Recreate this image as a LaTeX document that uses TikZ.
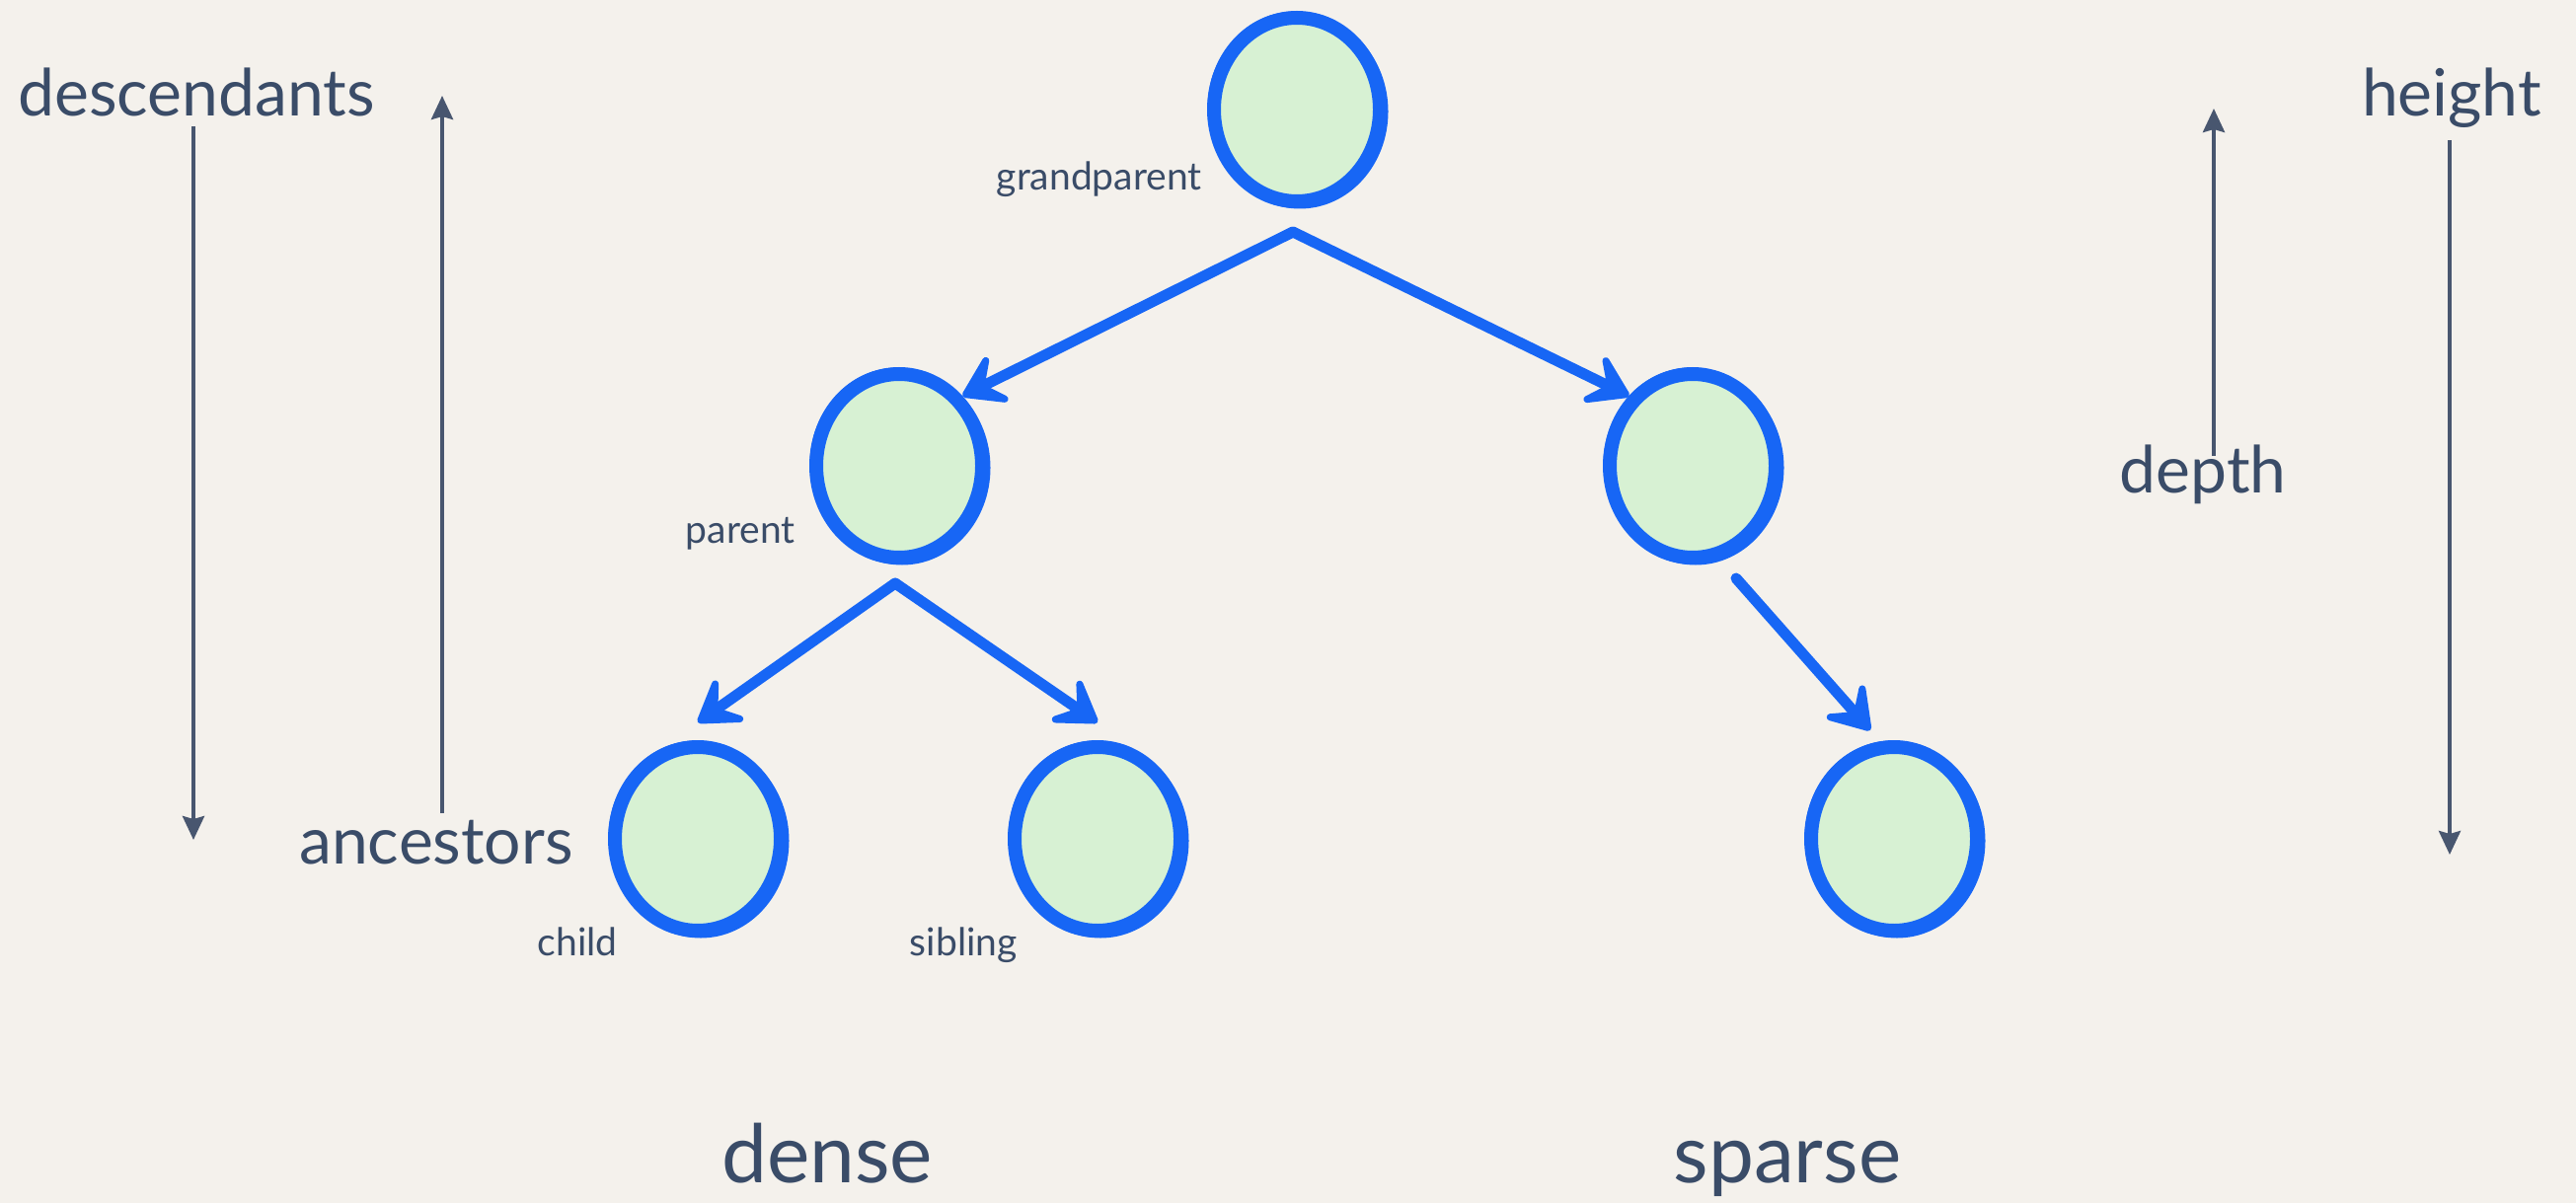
\documentclass[tikz,border=0pt]{standalone}
\usepackage{fontspec}
\setmainfont{Lato}
\usetikzlibrary{shapes.geometric,arrows.meta,calc}
\definecolor{bg}{HTML}{F4F1EC}
\definecolor{ink}{HTML}{3A4C68}
\definecolor{arrowink}{HTML}{48566F}
\definecolor{tblue}{HTML}{1766F5}
\definecolor{tgreen}{HTML}{D7F1D3}
\begin{document}
\begin{tikzpicture}[x=0.5pt,y=-0.5pt,
  tnode/.style={ellipse,draw=tblue,fill=tgreen,line width=7pt,minimum width=84pt,minimum height=93pt,inner sep=0pt},
  sketch/.style={draw=tblue,line width=2.5pt},
  tarrow/.style={draw=tblue,line width=5.5pt,line cap=round,-{Stealth[length=27pt,width=35pt,inset=13pt,round]}},
  side/.style={text=ink,font=\fontsize{33}{39}\selectfont,inner sep=0pt},
  small/.style={text=ink,font=\fontsize{19.5}{23}\selectfont,inner sep=0pt},
  big/.style={text=ink,font=\fontsize{41}{48}\selectfont,inner sep=0pt},
  sarrow/.style={draw=arrowink,line width=2pt,-{Stealth[length=12pt,width=11pt,inset=1.5pt]}}
]
\fill[bg] (0,0) rectangle (2610,1219);
\useasboundingbox (0,0) rectangle (2610,1219);

% tree nodes
\node[tnode] (gp) at (1314,111) {};
\node[tnode] (par) at (911,472) {};
\node[tnode] (rm) at (1715,472) {};
\node[tnode] (child) at (707,850) {};
\node[tnode] (sib) at (1112,850) {};
\node[tnode] (leaf) at (1919,850) {};

% brush-like extra strokes within the ring band
\foreach \n in {gp,par,rm,child,sib,leaf}{
  \draw[sketch] ($(\n.center)+(3,2)$) ellipse [x radius=87, y radius=96];
  \draw[sketch] ($(\n.center)+(-2,-2)$) ellipse [x radius=86, y radius=95];
}

% small labels
\node[small,anchor=base east] (lgp) at (1218,193) {grandparent};
\node[small,anchor=base east] (lpar) at (806,550) {parent};
\node[small,anchor=base east] (lchild) at (626,968) {child};
\node[small,anchor=base east] (lsib) at (1031,968) {sibling};

% tree arrows
\coordinate (gpo) at ([xshift=-2pt,yshift=-12pt]gp.south);
\coordinate (po) at ([xshift=-2pt,yshift=-9.5pt]par.south);
\coordinate (rmo) at ([xshift=22pt,yshift=-7pt]rm.south);
\draw[tarrow] (gpo) -- (par.north east);
\draw[tarrow] (gpo) -- (rm.north west);
\draw[tarrow] (po) -- ([yshift=9pt]child.north);
\draw[tarrow] (po) -- ([yshift=9pt]sib.north);
\draw[tarrow] (rmo) -- ([xshift=-12pt,yshift=5pt]leaf.north);

% side labels
\node[side,anchor=base] (desc) at (199,118) {descendants};
\node[side,anchor=base] (anc) at (442,875) {ancestors};
\node[side,anchor=base] (hgt) at (2484,118) {height};
\node[side,anchor=base] (dep) at (2232,499) {depth};
\node[big,anchor=base] (dense) at (838,1198) {dense};
\node[big,anchor=base] (sparse) at (1811,1198) {sparse};

% side arrows
\coordinate (d1) at (196,128);
\coordinate (d2) at (196,851);
\coordinate (a1) at (448,824);
\coordinate (a2) at (448,97);
\coordinate (h1) at (2482,142);
\coordinate (h2) at (2482,866);
\coordinate (p1) at (2243,462);
\coordinate (p2) at (2243,110);
\draw[sarrow] (d1) -- (d2);
\draw[sarrow] (a1) -- (a2);
\draw[sarrow] (h1) -- (h2);
\draw[sarrow] (p1) -- (p2);
\end{tikzpicture}
\end{document}
